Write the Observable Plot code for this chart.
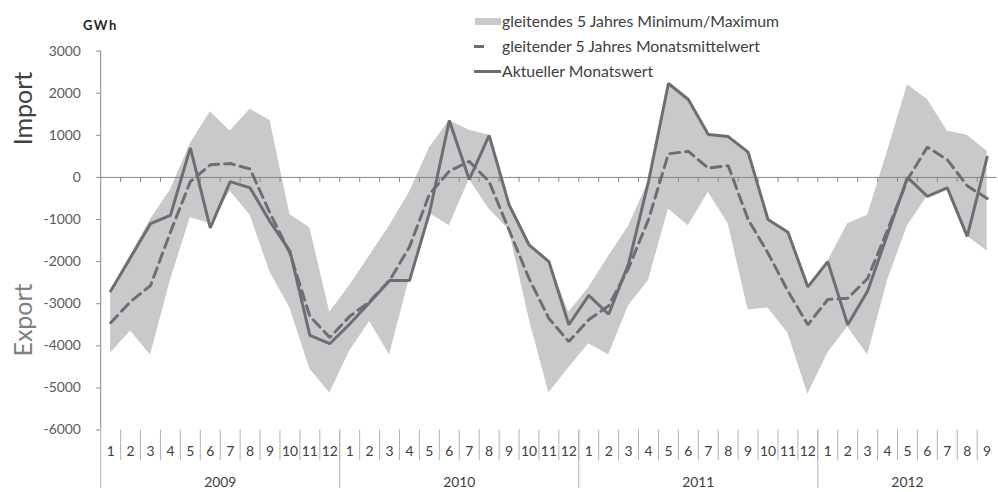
<!DOCTYPE html>
<html><head><meta charset="utf-8">
<script src="https://cdn.jsdelivr.net/npm/d3@7"></script>
<script src="https://cdn.jsdelivr.net/npm/@observablehq/plot@0.6"></script>
<style>
html,body{margin:0;padding:0;background:#fff;overflow:hidden;width:998px;height:492px;}
#wrap{position:relative;width:998px;height:492px;overflow:hidden;font-family:Lato,sans-serif;}
#chart{position:absolute;left:0;top:0;}
#overlay{position:absolute;left:0;top:0;pointer-events:none;}
</style></head><body>
<div id="wrap"><div id="chart"></div><svg id="overlay" width="998" height="492"></svg></div>
<script>
// ---- data ----
const years = ["2009", "2010", "2011", "2012"];
const monthCount = [12, 12, 12, 9];
const yTicks = [3000, 2000, 1000, 0, -1000, -2000, -3000, -4000, -5000, -6000];
// Aktueller Monatswert
const actual = [
  -2700, -1900, -1100, -900, 700, -1200, -100, -250, -1050, -1750, -3750, -3950,
  -3480, -2970, -2450, -2450, -850, 1350, -50, 1000, -650, -1600, -2000, -3500,
  -2800, -3250, -2050, -100, 2230, 1850, 1020, 970, 600, -1000, -1300, -2600,
  -2000, -3500, -2700, -1350, 0, -450, -250, -1400, 480
];
// gleitender 5 Jahres Monatsmittelwert
const mean5 = [
  -3450, -2950, -2570, -1300, -100, 300, 330, 200, -850, -1800, -3300, -3800,
  -3300, -2950, -2450, -1650, -400, 150, 380, -100, -1250, -2400, -3350, -3900,
  -3380, -3050, -2150, -1000, 560, 620, 220, 280, -1000, -1800, -2700, -3500,
  -2900, -2870, -2400, -1250, -50, 720, 420, -200, -500
];
// gleitendes 5 Jahres Minimum
const min5 = [
  -4170, -3650, -4220, -2450, -950, -1100, -330, -900, -2250, -3100, -4550, -5120,
  -4120, -3420, -4220, -2400, -850, -1150, -50, -750, -1250, -3350, -5120, -4520,
  -3950, -4220, -3050, -2450, -750, -1150, -350, -1100, -3150, -3100, -3700, -5150,
  -4170, -3550, -4220, -2450, -1150, -450, -250, -1400, -1750
];
// gleitendes 5 Jahres Maximum
const max5 = [
  -2700, -1850, -1000, -300, 800, 1560, 1100, 1620, 1350, -880, -1200, -3200,
  -2570, -1860, -1150, -350, 700, 1350, 1120, 1000, -650, -1600, -2000, -3200,
  -2620, -1870, -1160, -100, 2230, 1850, 1020, 970, 600, -1000, -1300, -2600,
  -2000, -1100, -900, 620, 2200, 1850, 1100, 1000, 620
];
const legendLabels = [
  "gleitendes 5 Jahres Minimum/Maximum",
  "gleitender 5 Jahres Monatsmittelwert",
  "Aktueller Monatswert"
];
const unitLabel = "GWh";
const sideLabels = ["Import", "Export"];

// ---- table ----
const periods = years.flatMap((y, k) => d3.range(monthCount[k]).map(m => ({year: y, month: m + 1})));
const data = periods.map((p, i) => ({
  ...p, pos: i + 0.5,
  actual: actual[i], mean: mean5[i], min: min5[i], max: max5[i]
}));
const monthByPos = new Map(data.map(d => [d.pos, d.month]));
const yearStarts = [];
const yearCenters = [];
{
  let s = 0;
  years.forEach((y, k) => { yearStarts.push(s); yearCenters.push(s + monthCount[k] / 2); s += monthCount[k]; });
}
const yearByCenter = new Map(yearCenters.map((c, k) => [c, years[k]]));
const monthBounds = d3.range(1, data.length);

const LINE = "#6d6e71", BAND = "#c8c9cb", AXIS = "#868686", SEP = "#b3b3b3";
const FONT = "Lato, 'Open Sans', sans-serif";
const AXFONT = 14;

const chart = Plot.plot({
  width: 1006, height: 492,
  marginLeft: 101, marginRight: 1.4, marginTop: 51, marginBottom: 59,
  x: {domain: [0, data.length]},
  y: {domain: [-6000, 3000]},
  style: {fontFamily: FONT, fontSize: AXFONT + "px", background: "white", overflow: "visible"},
  marks: [
    Plot.areaY(data, {x: "pos", y1: "min", y2: "max", fill: BAND}),
    Plot.ruleY([0], {stroke: AXIS, strokeWidth: 1}),
    Plot.ruleX(monthBounds, {x: d => d, y1: 0, y2: 0, insetBottom: -5, stroke: AXIS}),
    Plot.line(data, {x: "pos", y: "mean", stroke: LINE, strokeWidth: 3, strokeDasharray: "10,6", strokeLinejoin: "miter"}),
    Plot.line(data, {x: "pos", y: "actual", stroke: LINE, strokeWidth: 3, strokeLinejoin: "miter"}),
    Plot.ruleX([0], {stroke: AXIS}),
    Plot.axisY(yTicks, {tickSize: 4, tickPadding: 16, tickFormat: d => String(d), fontSize: AXFONT, fill: "#595959", stroke: AXIS, label: null}),
    Plot.axisX(monthBounds, {tickSize: 31, tickFormat: () => "", stroke: SEP, label: null}),
    Plot.axisX(yearStarts, {tickSize: 59, tickFormat: () => "", stroke: SEP, label: null}),
    Plot.axisX(data.map(d => d.pos), {tickSize: 0, tickPadding: 16, tickFormat: d => monthByPos.get(d), fontSize: AXFONT, fill: "#404040", label: null}),
    Plot.axisX(yearCenters, {tickSize: 0, tickPadding: 47, tickFormat: d => yearByCenter.get(d), fontSize: AXFONT, fill: "#404040", label: null})
  ]
});
// make sure the axis text uses the intended size
d3.select(chart).selectAll("g").filter(function() { return this.hasAttribute("font-size"); }).attr("font-size", AXFONT);
d3.select(chart).selectAll("text").attr("font-size", AXFONT).style("font-size", AXFONT + "px").style("font-family", FONT);
document.getElementById("chart").appendChild(chart);

// ---- overlay texts & legend ----
const ov = d3.select("#overlay").style("font-family", FONT);
ov.append("text").attr("x", 83).attr("y", 29.5).attr("font-size", 13).attr("font-weight", "bold")
  .attr("letter-spacing", 1.5).attr("fill", "#262626").text(unitLabel);
ov.append("text").attr("transform", "translate(32,108.5) rotate(-90)").attr("text-anchor", "middle")
  .attr("font-size", 25).attr("fill", "#404040").text(sideLabels[0]);
ov.append("text").attr("transform", "translate(32,320) rotate(-90)").attr("text-anchor", "middle")
  .attr("font-size", 25).attr("fill", "#808080").text(sideLabels[1]);

const lg = ov.append("g");
const rowY = [21.5, 46.5, 71.5];
lg.append("rect").attr("x", 475).attr("y", rowY[0] - 3.5).attr("width", 26).attr("height", 7).attr("fill", BAND);
lg.append("line").attr("x1", 474).attr("x2", 484).attr("y1", rowY[1]).attr("y2", rowY[1]).attr("stroke", LINE).attr("stroke-width", 3);
lg.append("line").attr("x1", 474).attr("x2", 501).attr("y1", rowY[2]).attr("y2", rowY[2]).attr("stroke", LINE).attr("stroke-width", 3);
lg.selectAll("text.lt").data(legendLabels).join("text").attr("class", "lt")
  .attr("x", 502).attr("y", (d, i) => rowY[i] + 5.3).attr("font-size", 15.8).attr("fill", "#404040").text(d => d);
</script>
</body></html>
